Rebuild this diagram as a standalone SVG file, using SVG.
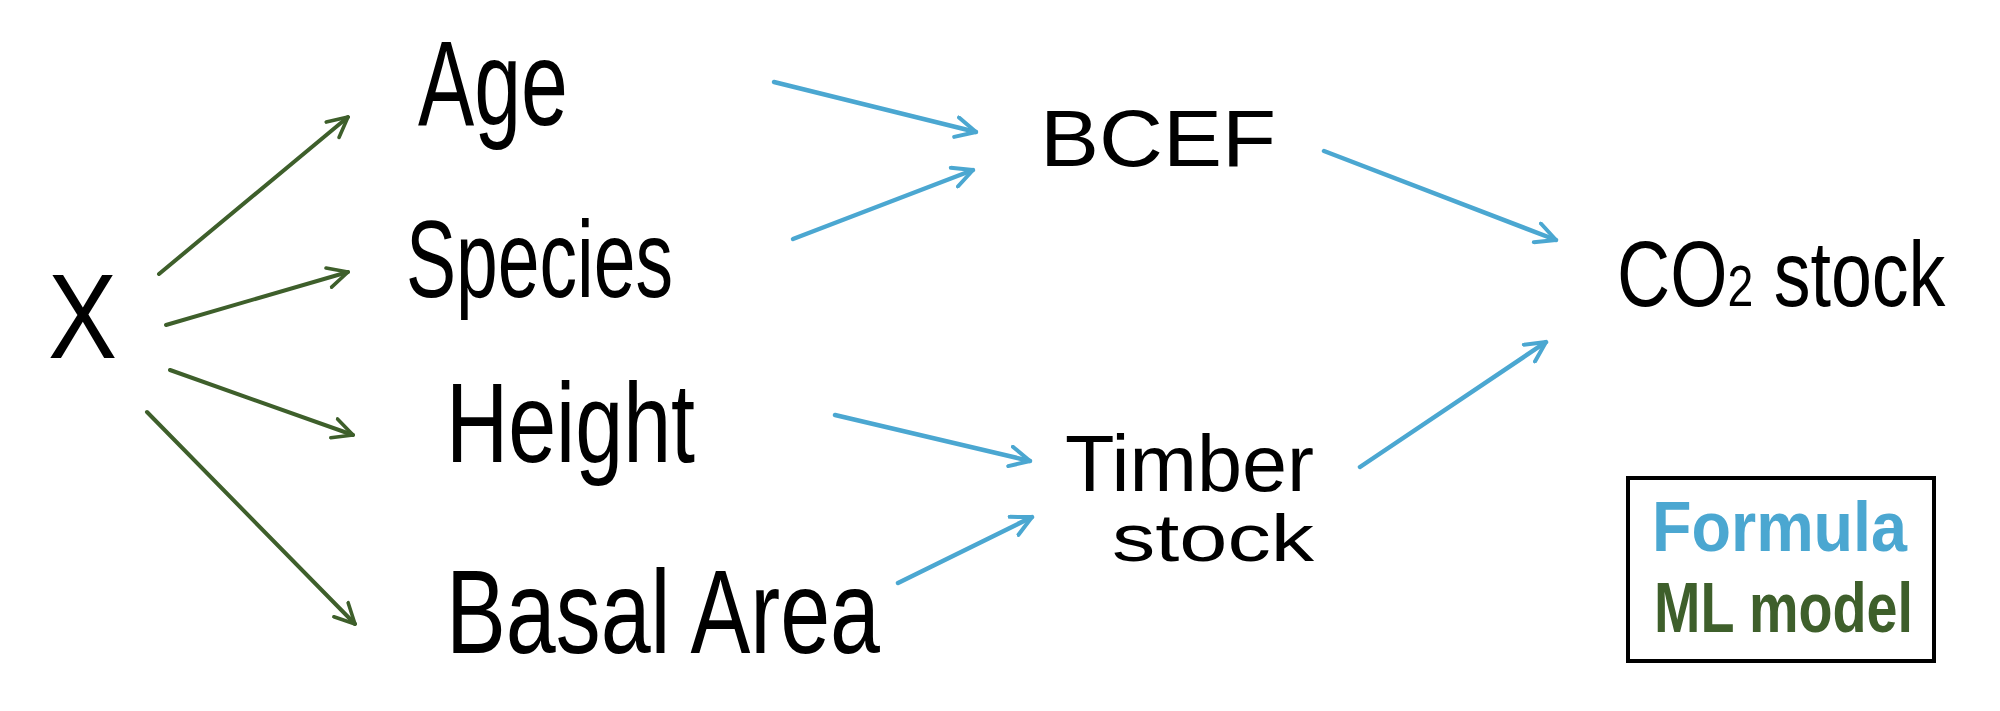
<svg xmlns="http://www.w3.org/2000/svg" width="2000" height="711" viewBox="0 0 2000 711">
<defs>
<style>
.lbl{font-family:"Liberation Sans","DejaVu Sans",sans-serif;fill:#000;}
.g{stroke:#3e5f2b;stroke-width:4;fill:none;stroke-linecap:round;}
.b{stroke:#4ba7d1;stroke-width:4.5;fill:none;stroke-linecap:round;}
</style>
<marker id="ag" viewBox="0 0 12 12" refX="11" refY="6" markerWidth="24" markerHeight="24" markerUnits="userSpaceOnUse" orient="auto">
<path d="M1,1 L11,6 L1,11" fill="none" stroke="#3e5f2b" stroke-width="1.8" stroke-linecap="round" stroke-linejoin="round"/>
</marker>
<marker id="ab" viewBox="0 0 12 12" refX="11" refY="6" markerWidth="24" markerHeight="24" markerUnits="userSpaceOnUse" orient="auto">
<path d="M1,1 L11,6 L1,11" fill="none" stroke="#4ba7d1" stroke-width="2" stroke-linecap="round" stroke-linejoin="round"/>
</marker>
</defs>
<rect width="2000" height="711" fill="#fff"/>
<g id="connectors">
<line class="g" x1="159" y1="274" x2="348" y2="117" marker-end="url(#ag)"/>
<line class="g" x1="166" y1="325" x2="348" y2="272" marker-end="url(#ag)"/>
<line class="g" x1="170" y1="370" x2="353" y2="435" marker-end="url(#ag)"/>
<line class="g" x1="147" y1="412" x2="355" y2="624" marker-end="url(#ag)"/>
<line class="b" x1="774" y1="82" x2="976" y2="132" marker-end="url(#ab)"/>
<line class="b" x1="793" y1="239" x2="973" y2="170" marker-end="url(#ab)"/>
<line class="b" x1="835" y1="415" x2="1030" y2="461" marker-end="url(#ab)"/>
<line class="b" x1="898" y1="583" x2="1032" y2="517" marker-end="url(#ab)"/>
<line class="b" x1="1324" y1="151" x2="1556" y2="240" marker-end="url(#ab)"/>
<line class="b" x1="1360" y1="467" x2="1546" y2="342" marker-end="url(#ab)"/>
</g>
<g id="node-x"><text class="lbl" x="48" y="358" font-size="120" textLength="69" lengthAdjust="spacingAndGlyphs">X</text></g>
<g id="node-age"><text class="lbl" x="418" y="125" font-size="120" textLength="150" lengthAdjust="spacingAndGlyphs">Age</text></g>
<g id="node-species"><text class="lbl" x="406" y="297" font-size="110" textLength="267" lengthAdjust="spacingAndGlyphs">Species</text></g>
<g id="node-height"><text class="lbl" x="446" y="462" font-size="114" textLength="249" lengthAdjust="spacingAndGlyphs">Height</text></g>
<g id="node-basal"><text class="lbl" x="446" y="653" font-size="118" textLength="434" lengthAdjust="spacingAndGlyphs">Basal Area</text></g>
<g id="node-bcef"><text class="lbl" x="1040" y="166" font-size="80" textLength="236" lengthAdjust="spacingAndGlyphs">BCEF</text></g>
<g id="node-timber">
<text class="lbl" x="1065" y="491" font-size="80" textLength="249" lengthAdjust="spacingAndGlyphs">Timber</text>
<text class="lbl" x="1112" y="561" font-size="66" textLength="202" lengthAdjust="spacingAndGlyphs">stock</text>
</g>
<g id="node-co2" transform="translate(1617,306) scale(0.8,1)"><text class="lbl" x="0" y="0" font-size="92">CO<tspan font-size="58">2</tspan> stock</text></g>
<g id="legend">
<rect x="1628" y="478" width="306" height="183" fill="none" stroke="#000" stroke-width="4"/>
<text x="1652" y="551" font-family="Liberation Sans, sans-serif" font-weight="bold" font-size="70" fill="#4ba7d1" textLength="255" lengthAdjust="spacingAndGlyphs">Formula</text>
<text x="1654" y="632" font-family="Liberation Sans, sans-serif" font-weight="bold" font-size="70" fill="#3e5f2b" textLength="259" lengthAdjust="spacingAndGlyphs">ML model</text>
</g>
</svg>
